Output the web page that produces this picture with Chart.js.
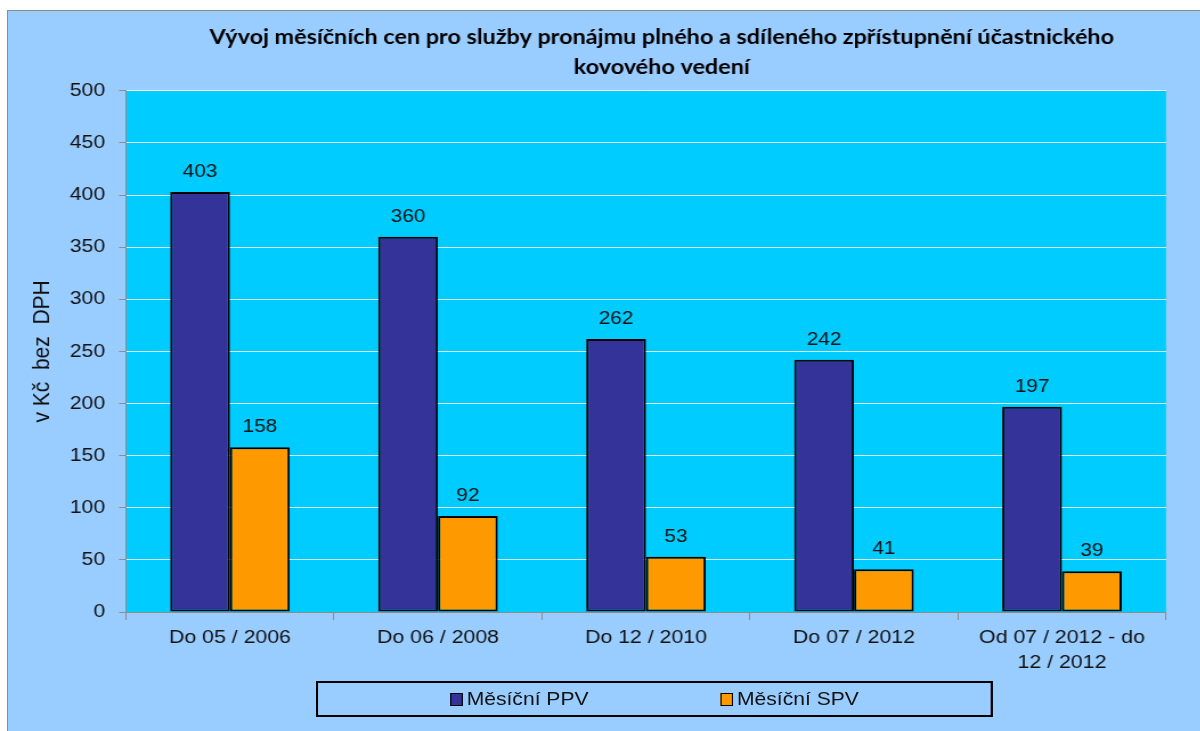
<!DOCTYPE html>
<html>
<head>
<meta charset="utf-8">
<script src="https://cdn.jsdelivr.net/npm/chart.js@4"></script>
<style>
  html, body { margin: 0; padding: 0; background: #fff; width: 1200px; height: 731px; overflow: hidden; }
  #frame { position: absolute; left: 7px; top: 10px; width: 1300px; height: 800px; background: #99ccff; border: 1px solid #8c8c8c; }
  /* the original picture is a little wider than tall, so the whole chart is stretched sideways */
  #stage { position: absolute; left: 0; top: 0; width: 1161px; height: 731px; transform: scaleX(1.14); transform-origin: 0 0; }
  #chart { position: absolute; left: 0; top: 0; }
  #legend { position: absolute; left: 277.2px; top: 681px; width: 594px; height: 36px; box-sizing: border-box;
            border: 2px solid #000; display: flex; justify-content: space-evenly; align-items: center;
            font: 18.5px "Liberation Sans", Arial, sans-serif; color: #111; }
  #legend span.box { display: inline-block; width: 11.4px; height: 13px; box-sizing: border-box; border: 1.5px solid #000; margin-right: 3px; vertical-align: -1px; }
</style>
</head>
<body>
<div id="frame"></div>
<div id="stage">
<canvas id="chart" width="1161" height="731"></canvas>
<div id="legend"></div>
</div>
<script>
// data
titleLines = ['Vývoj měsíčních cen pro služby pronájmu plného a sdíleného zpřístupnění účastnického', 'kovového vedení']
categories = ['Do 05 / 2006', 'Do 06 / 2008', 'Do 12 / 2010', 'Do 07 / 2012', ['Od 07 / 2012 - do', '12 / 2012']]
seriesNames = ['Měsíční PPV', 'Měsíční SPV']
ppvValues = [403, 360, 262, 242, 197]
spvValues = [158, 92, 53, 41, 39]
yTitle = 'v Kč  bez  DPH'

colors = ['#333399', '#ff9900']
font = '"Liberation Sans", Arial, sans-serif'

// cyan plot area
plotBg = {
    id: 'plotBg',
    beforeDraw: function(chart){
        a = chart.chartArea
        chart.ctx.save()
        chart.ctx.fillStyle = '#00ccff'
        chart.ctx.fillRect(a.left, a.top, a.right - a.left, a.bottom - a.top)
        chart.ctx.restore()
    }
}

// numbers above bars
valueLabels = {
    id: 'valueLabels',
    afterDatasetsDraw: function(chart){
        ctx = chart.ctx
        ctx.save()
        ctx.font = '18.2px ' + font
        ctx.fillStyle = '#111'
        ctx.textAlign = 'center'
        ctx.textBaseline = 'middle'
        chart.data.datasets.forEach(function(ds, i){
            chart.getDatasetMeta(i).data.forEach(function(bar, j){
                ctx.fillText(ds.data[j], bar.x, bar.y - 20)
            })
        })
        ctx.restore()
    }
}

ctx = document.getElementById('chart')
config = {
    type: 'bar',
    data: {
        labels: categories,
        datasets: [{
            label: seriesNames[0],
            data: ppvValues,
            backgroundColor: colors[0],
            borderColor: '#000',
            borderWidth: 2,
            borderSkipped: false,
            categoryPercentage: 0.575,
            barPercentage: 1
        }, {
            label: seriesNames[1],
            data: spvValues,
            backgroundColor: colors[1],
            borderColor: '#000',
            borderWidth: 2,
            borderSkipped: false,
            categoryPercentage: 0.575,
            barPercentage: 1
        }]
    },
    options: {
        responsive: false,
        animation: false,
        plugins: {
            legend: { display: false },
            tooltip: { enabled: false },
            title: {
                display: true,
                text: titleLines,
                color: '#000',
                font: { family: 'Lato', weight: 'bold', size: 20.5, lineHeight: 1.46 },
                padding: { top: 22, bottom: 9 }
            }
        },
        scales: {
            x: {
                grid: { drawOnChartArea: false, color: '#8c8c8c', tickLength: 8 },
                border: { color: '#8c8c8c' },
                ticks: { color: '#111', font: { family: font, size: 18.7, lineHeight: 1.35 }, padding: 5, maxRotation: 0, autoSkip: false },
                afterFit: function(s){ s.height = 119 }
            },
            y: {
                min: 0,
                max: 500,
                ticks: { stepSize: 50, color: '#111', font: { family: font, size: 18.5 }, padding: 12.3 },
                grid: { color: 'rgba(255,255,255,0.85)', tickColor: '#8c8c8c', tickLength: 6 },
                border: { color: '#8c8c8c' },
                title: { display: true, text: yTitle, color: '#111', font: { family: font, size: 21 }, padding: { top: 24.2 } },
                afterFit: function(s){ s.width = 110.5 }
            },
            y2: {
                position: 'right',
                display: true,
                grid: { display: false },
                border: { display: false },
                ticks: { display: false },
                afterFit: function(s){ s.width = 138.2 }
            }
        }
    },
    plugins: [plotBg, valueLabels]
}
createNewChart = new Chart(ctx, config)

// legend from the datasets
legendBox = document.getElementById('legend')
createNewChart.data.datasets.forEach(function(ds){
    item = document.createElement('div')
    item.innerHTML = '<span class="box" style="background:' + ds.backgroundColor + '"></span>' + ds.label
    legendBox.appendChild(item)
})
</script>
</body>
</html>
